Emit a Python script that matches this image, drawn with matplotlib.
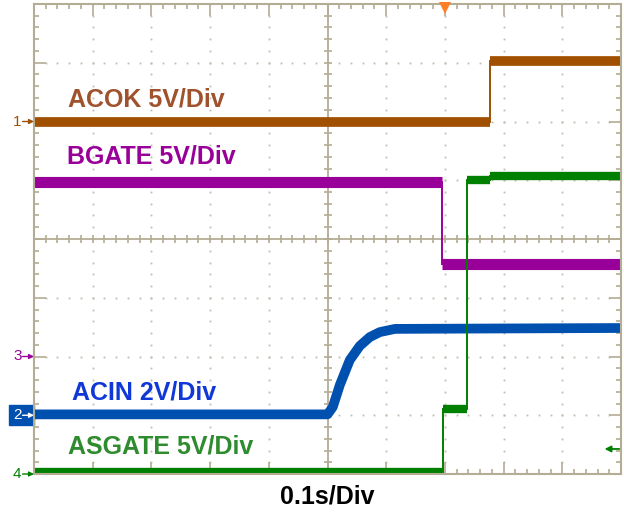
import numpy as np
import matplotlib
matplotlib.use("Agg")
from matplotlib import pyplot as plt

plt.rcParams['font.family'] = ['Liberation Sans', 'DejaVu Sans']

# --- trace data (time in s, value in V) ---
acok_t = [-0.5, 0.277, 0.277, 0.5]
acok_v = [0.0, 0.0, 5.15, 5.15]

bgate_t = [-0.5, 0.195, 0.195, 0.5]
bgate_v = [14.85, 14.85, 7.9, 7.9]

acin_t = [-0.5, 0.000, 0.009, 0.021, 0.038, 0.055, 0.072, 0.089, 0.115, 0.5]
acin_v = [0.03, 0.03, 0.28, 1.03, 1.88, 2.36, 2.66, 2.83, 2.94, 2.97]

asgate_t = [-0.5, 0.197, 0.197, 0.2375, 0.2375, 0.277, 0.277, 0.5]
asgate_v = [0.2, 0.2, 5.5, 5.5, 25.0, 25.0, 25.4, 25.4]

# channel: label, data, volts/div, ground offset (div), trace colour, label colour, marker
channels = [
    ("ACOK 5V/Div", acok_t, acok_v, 5, 2, "#A05000", "#A0522D", "1"),
    ("BGATE 5V/Div", bgate_t, bgate_v, 5, -2, "#990099", "#990099", "3"),
    ("ACIN 2V/Div", acin_t, acin_v, 2, -3, "#0050B0", "#1038D8", "2"),
    ("ASGATE 5V/Div", asgate_t, asgate_v, 5, -4, "#008000", "#2E8B2E", "4"),
]
label_pos = [(-0.442, 2.366), (-0.444, 1.396), (-0.4355, -2.621), (-0.442, -3.54)]
trace_lw = [7.0, 8.0, 7.0, 6.0]

gridc = "#B4AC94"
dotc = "#BDBDAF"

fig = plt.figure(figsize=(6.24, 5.14), dpi=100)
ax = fig.add_axes([34 / 624, 40 / 514, 587 / 624, 470 / 514])
ax.set_xlim(-0.5, 0.5)
ax.set_ylim(-4, 4)

# frame and ticks
ax.set_xticks(np.linspace(-0.5, 0.5, 11))
ax.set_yticks(np.linspace(-4, 4, 9))
ax.set_xticks(np.linspace(-0.5, 0.5, 51), minor=True)
ax.set_yticks(np.linspace(-4, 4, 41), minor=True)
ax.tick_params(which="both", direction="in", top=True, right=True,
               labelbottom=False, labelleft=False, color=gridc, width=1.2)
ax.tick_params(which="major", length=8.5)
ax.tick_params(which="minor", length=3.5)
for s in ax.spines.values():
    s.set_color(gridc)
    s.set_linewidth(1.5)

# dotted grid
xs_minor = np.linspace(-0.5, 0.5, 51)
ys_minor = np.linspace(-4, 4, 41)
for gx in np.linspace(-0.4, 0.4, 9):
    if abs(gx) > 1e-9:
        ax.plot(np.full_like(ys_minor, gx), ys_minor, ls="none", marker="s",
                ms=1.3, mew=0, color=dotc, zorder=1)
for gy in np.linspace(-3, 3, 7):
    if abs(gy) > 1e-9:
        ax.plot(xs_minor, np.full_like(xs_minor, gy), ls="none", marker="s",
                ms=1.3, mew=0, color=dotc, zorder=1)

# centre axes with ticks
ax.axhline(0, color=gridc, lw=1.3, zorder=1)
ax.axvline(0, color=gridc, lw=1.3, zorder=1)
ax.plot(xs_minor, np.zeros_like(xs_minor), ls="none", marker="|", ms=6,
        mew=1.2, color=gridc, zorder=1)
ax.plot(np.zeros_like(ys_minor), ys_minor, ls="none", marker="_", ms=6,
        mew=1.2, color=gridc, zorder=1)

# traces
for (lab, t, v, vdiv, off, col, lcol, mk), lw in zip(channels, trace_lw):
    t = np.array(t, dtype=float)
    y = np.array(v, dtype=float) / vdiv + off
    # thin line through everything (fast edges)
    ax.plot(t, y, color=col, lw=1.4, zorder=2.2, solid_joinstyle="miter")
    # thick noisy band on the slow parts, broken at the vertical edges
    tt, yy = [t[0]], [y[0]]
    for i in range(1, len(t)):
        if t[i] == t[i - 1]:
            tt += [np.nan, t[i]]
            yy += [np.nan, y[i]]
        else:
            tt.append(t[i])
            yy.append(y[i])
    ax.plot(tt, yy, color=col, lw=lw, zorder=2.2, solid_capstyle="butt",
            solid_joinstyle="round")

# labels
for (lab, t, v, vdiv, off, col, lcol, mk), (lx, ly) in zip(channels, label_pos):
    ax.text(lx, ly, lab, color=lcol, fontsize=18, fontweight="bold",
            va="center", ha="left", zorder=4)

# channel ground markers on the left
for lab, t, v, vdiv, off, col, lcol, mk in channels:
    if mk == "2":
        ax.add_patch(plt.Rectangle((-0.5426, off - 0.17), 0.0426, 0.34,
                                   color="#0050B0", clip_on=False, zorder=0.5))
        txt_c = arrow_c = "white"
    else:
        txt_c = arrow_c = col
    ax.text(-0.5285, off, mk, color=txt_c, fontsize=11, va="center",
            ha="center", clip_on=False)
    ax.annotate("", xy=(-0.5, off), xytext=(-0.5195, off), clip_on=False,
                arrowprops=dict(arrowstyle="-|>", color=arrow_c, lw=1.0,
                                mutation_scale=7, shrinkA=0, shrinkB=0))

# trigger position marker (top) and trigger level (right)
ax.plot([0.2], [3.93], marker="v", ms=9, color="#FF7F27", mew=0,
        clip_on=False, zorder=5)
ax.annotate("", xy=(0.472, -3.574), xytext=(0.497, -3.574),
            arrowprops=dict(arrowstyle="-|>", color="#008000", lw=1.3,
                            mutation_scale=9, shrinkA=0, shrinkB=0))

fig.text(327.5 / 624, 1 - 497 / 514, "0.1s/Div", fontsize=18,
         fontweight="bold", ha="center", va="center")

fig.savefig("out.png", dpi=100)
